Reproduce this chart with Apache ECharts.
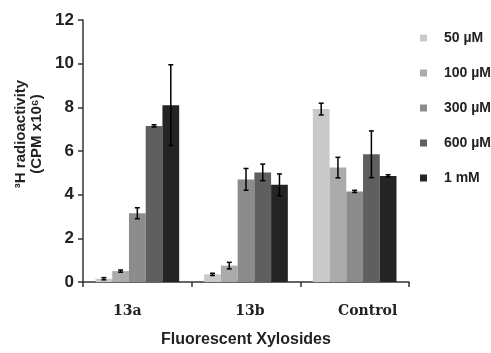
<!DOCTYPE html>
<html><head><meta charset="utf-8">
<script src="https://cdn.jsdelivr.net/npm/echarts@6/dist/echarts.min.js"></script>
<style>html,body{margin:0;padding:0;background:#fff}#c{width:491px;height:353px}</style>
</head><body><div id="c"></div>
<script>
const categories = ['13a', '13b', 'Control'];
const seriesNames = ['50 µM', '100 µM', '300 µM', '600 µM', '1 mM'];
const colors = ['#c9c9c9', '#ababab', '#8c8c8c', '#5f5f5f', '#242424'];
const v50 = [0.15, 0.35, 7.92];
const v100 = [0.5, 0.75, 5.24];
const v300 = [3.15, 4.7, 4.15];
const v600 = [7.15, 5.02, 5.85];
const v1m = [8.1, 4.45, 4.86];
const e50 = [0.05, 0.05, 0.27];
const e100 = [0.05, 0.15, 0.47];
const e300 = [0.25, 0.5, 0.05];
const e600 = [0.05, 0.38, 1.07];
const e1m = [1.85, 0.5, 0.05];
const yTicks = [0, 2, 4, 6, 8, 10, 12];

const values = [v50, v100, v300, v600, v1m];
const errors = [e50, e100, e300, e600, e1m];
const gapRatio = 0.23;
const labelShift = {'13a': [0, 20, 0, 0], '13b': [0, 0, 0, 8], 'Control': [0, 0, 0, 26]};

const chart = echarts.init(document.getElementById('c'), null, {renderer: 'canvas'});
const series = [];
values.forEach((vals, i) => {
  series.push({
    type: 'bar', name: seriesNames[i], data: vals,
    barGap: 0, barCategoryGap: (gapRatio * 100) + '%',
    itemStyle: {color: colors[i]}
  });
});
values.forEach((vals, i) => {
  series.push({
    type: 'custom', name: seriesNames[i] + ' err',
    data: vals.map((v, k) => [k, v, errors[i][k]]),
    z: 10,
    renderItem: function (params, api) {
      const k = api.value(0), v = api.value(1), e = api.value(2);
      const catW = api.size([1, 0])[0];
      const bw = catW * (1 - gapRatio) / values.length;
      const c = api.coord([k, v]);
      const x = c[0] + (i - (values.length - 1) / 2) * bw;
      const hi = api.coord([k, v + e])[1];
      const lo = api.coord([k, v - e])[1];
      const cap = 2.5;
      const st = {stroke: '#000', lineWidth: 1.5};
      return {type: 'group', children: [
        {type: 'line', shape: {x1: x, y1: hi, x2: x, y2: lo}, style: st},
        {type: 'line', shape: {x1: x - cap, y1: hi, x2: x + cap, y2: hi}, style: st},
        {type: 'line', shape: {x1: x - cap, y1: lo, x2: x + cap, y2: lo}, style: st}
      ]};
    }
  });
});

const rich = {};
categories.forEach((c, k) => {
  rich['c' + k] = {fontFamily: 'DejaVu Serif', fontWeight: 'bold', fontSize: 14, color: '#222', padding: labelShift[c]};
});

chart.setOption({
  animation: false,
  grid: {left: 83, right: 82, top: 20, bottom: 67},
  legend: {
    data: seriesNames, orient: 'vertical', left: 415, top: 26,
    itemWidth: 7, itemHeight: 7, itemGap: 21, icon: 'rect',
    textStyle: {fontFamily: 'Liberation Sans', fontWeight: 'bold', fontSize: 14, color: '#222', padding: [0, 0, 0, 12]}
  },
  graphic: [{
    type: 'text', x: 29, y: 134, rotation: Math.PI / 2,
    style: {text: '³H radioactivity\n(CPM x10⁶)', fontFamily: 'Liberation Sans', fontWeight: 'bold', fontSize: 15,
      lineHeight: 16, fill: '#222', align: 'center', verticalAlign: 'middle'}
  }],
  xAxis: {
    type: 'category', data: categories,
    name: 'Fluorescent Xylosides', nameLocation: 'middle', nameGap: 50,
    nameTextStyle: {fontFamily: 'Liberation Sans', fontWeight: 'bold', fontSize: 16, color: '#222'},
    axisLine: {lineStyle: {color: '#333', width: 1.5}},
    axisTick: {show: true, length: 5, lineStyle: {color: '#333', width: 1.5}},
    axisLabel: {margin: 22, rich: rich,
      formatter: (v, idx) => '{c' + categories.indexOf(v) + '|' + v + '}'}
  },
  yAxis: {
    type: 'value', min: 0, max: 12, interval: 2,
    axisLine: {show: true, lineStyle: {color: '#333', width: 1.5}},
    axisTick: {show: true, length: 5, lineStyle: {color: '#333', width: 1.5}},
    splitLine: {show: false},
    axisLabel: {fontFamily: 'Liberation Sans', fontWeight: 'bold', fontSize: 17, color: '#222', margin: 9,
      formatter: v => yTicks.includes(v) ? String(v) : ''}
  },
  series: series
});
</script></body></html>
